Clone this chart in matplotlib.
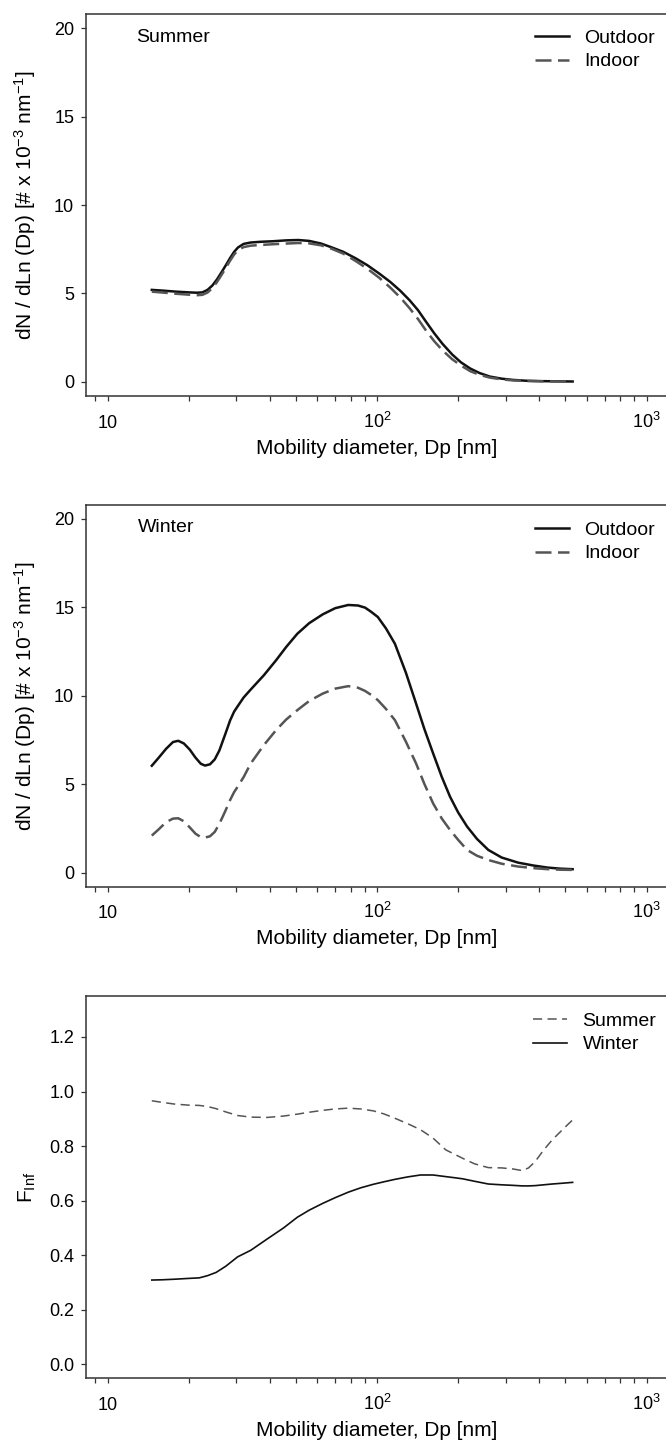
import numpy as np
import matplotlib
matplotlib.use('Agg')
import matplotlib.pyplot as plt
from matplotlib.ticker import FixedLocator, FixedFormatter, LogLocator, NullFormatter

plt.rcParams['font.family'] = ['Liberation Sans', 'DejaVu Sans']
plt.rcParams['mathtext.fontset'] = 'custom'
plt.rcParams['mathtext.rm'] = 'Liberation Sans'
plt.rcParams['mathtext.it'] = 'Liberation Sans:italic'
plt.rcParams['mathtext.bf'] = 'Liberation Sans:bold'

# --- data ---
# summer size distribution (dN/dlnDp, x10^3)
dp_summer = [14.6, 16, 18, 20, 21.5, 22.5, 23.5, 24.5, 25.5, 26.5,
             27.5, 28.5, 29.5, 30.5, 32, 34, 37, 41, 46, 51,
             56, 62, 68, 75, 83, 92, 102, 112, 122, 132,
             142, 152, 163, 175, 190, 205, 222, 240, 262, 290,
             320, 360, 410, 470, 532]
summer_out = [5.20, 5.16, 5.10, 5.06, 5.04, 5.06, 5.2, 5.45, 5.8, 6.2,
              6.6, 7.0, 7.35, 7.6, 7.8, 7.88, 7.92, 7.95, 8.0, 8.02,
              7.97, 7.82, 7.6, 7.35, 7.0, 6.6, 6.12, 5.65, 5.15, 4.62,
              4.05, 3.4, 2.75, 2.15, 1.55, 1.1, 0.75, 0.5, 0.3, 0.18,
              0.11, 0.06, 0.04, 0.03, 0.02]
summer_in = [5.10, 5.05, 4.98, 4.93, 4.90, 4.92, 5.05, 5.3, 5.65, 6.05,
             6.45, 6.85, 7.2, 7.45, 7.62, 7.7, 7.74, 7.78, 7.82, 7.85,
             7.83, 7.72, 7.52, 7.25, 6.85, 6.4, 5.88, 5.33, 4.77, 4.17,
             3.55, 2.9, 2.3, 1.78, 1.28, 0.92, 0.6, 0.4, 0.24, 0.14,
             0.08, 0.05, 0.03, 0.02, 0.02]

# winter size distribution
dp_winter = [14.6, 15.5, 16.5, 17.5, 18.3, 19.2, 20.2, 21.2, 22.2, 23,
             24, 25, 26, 27.4, 28.5, 29.5, 30.4, 32, 34, 38,
             42.2, 46, 50.6, 56, 62.9, 70, 78.2, 85, 90.3, 95,
             100.7, 108, 116.5, 128, 139.6, 150, 161.5, 174, 186.6, 200,
             215.9, 235, 258.8, 290, 334, 380, 430, 480, 532]
winter_out = [6.04, 6.5, 7.0, 7.38, 7.45, 7.3, 6.95, 6.5, 6.15, 6.05,
              6.12, 6.4, 6.9, 7.86, 8.6, 9.1, 9.4, 9.9, 10.35, 11.15,
              12.0, 12.75, 13.5, 14.1, 14.6, 14.95, 15.13, 15.1, 14.98, 14.75,
              14.45, 13.8, 12.94, 11.3, 9.56, 8.1, 6.74, 5.4, 4.29, 3.4,
              2.6, 1.9, 1.28, 0.85, 0.56, 0.4, 0.28, 0.22, 0.19]
winter_in = [2.09, 2.45, 2.85, 3.05, 3.07, 2.9, 2.55, 2.2, 2.0, 1.98,
             2.05, 2.3, 2.75, 3.5, 4.1, 4.55, 4.85, 5.4, 6.17, 7.2,
             8.05, 8.65, 9.18, 9.7, 10.12, 10.4, 10.54, 10.45, 10.27, 10.05,
             9.75, 9.25, 8.62, 7.4, 6.17, 5.0, 3.91, 3.05, 2.41, 1.85,
             1.28, 0.95, 0.71, 0.5, 0.34, 0.25, 0.19, 0.16, 0.15]

# infiltration factor
dp_finf = [14.6, 16, 17.7, 20, 21.9, 23.5, 25.3, 27.5, 30.4, 34,
           39.2, 45, 50.6, 56, 62.9, 70, 78.2, 87, 97, 106,
           116.5, 130, 145, 161.5, 180, 194, 208, 230, 258.8, 290,
           320, 346, 365, 386, 415, 447, 490, 532]
finf_summer = [0.966, 0.96, 0.954, 0.95, 0.949, 0.945, 0.937, 0.925, 0.912, 0.906,
               0.905, 0.91, 0.917, 0.924, 0.931, 0.936, 0.939, 0.936, 0.929, 0.918,
               0.902, 0.882, 0.86, 0.829, 0.786, 0.77, 0.755, 0.735, 0.721, 0.72,
               0.716, 0.71, 0.72, 0.743, 0.785, 0.823, 0.862, 0.896]
finf_winter = [0.309, 0.310, 0.312, 0.315, 0.317, 0.325, 0.337, 0.36, 0.394, 0.418,
               0.46, 0.5, 0.539, 0.565, 0.590, 0.611, 0.631, 0.647, 0.660, 0.669,
               0.678, 0.687, 0.694, 0.694, 0.688, 0.684, 0.680, 0.671, 0.661, 0.658,
               0.656, 0.654, 0.654, 0.655, 0.658, 0.661, 0.664, 0.667]

xtick_vals = [10, 100, 1000]
xtick_labels = ['10', '10$^2$', '10$^3$']

W, H = 666, 1443
fig = plt.figure(figsize=(W / 100, H / 100), dpi=100)

xmin, xmax = 8.3, 1250
ax_w = (np.log10(xmax) - np.log10(xmin)) * 269.5 / W
left = 85.7 / W
ax_h = 382 / H

def style_axes(ax):
    ax.set_xscale('log')
    ax.set_xlim(xmin, xmax)
    for s in ['left', 'bottom', 'top']:
        ax.spines[s].set_color('#333333')
        ax.spines[s].set_linewidth(1.1)
    ax.spines['right'].set_visible(False)
    ax.xaxis.set_major_locator(FixedLocator(xtick_vals))
    ax.xaxis.set_major_formatter(FixedFormatter(xtick_labels))
    ax.xaxis.set_minor_locator(LogLocator(base=10, subs=np.arange(2, 10), numticks=20))
    ax.xaxis.set_minor_formatter(NullFormatter())
    ax.tick_params(which='both', direction='out', length=3.3, width=0.9, color='#333333')
    ax.tick_params(axis='x', which='both', labelsize=13, pad=19.5, top=False)
    ax.tick_params(axis='y', labelsize=13, pad=5)
    for lbl in ax.get_xticklabels():
        lbl.set_va('baseline')
    ax.set_xlabel('Mobility diameter, Dp [nm]', fontsize=15)
    ax.xaxis.set_label_coords(0.495, -0.112)
    ax.yaxis.set_label_coords(-0.081, 0.5)

def add_legend(ax, x_px, top_px):
    ax.legend(loc='upper left', bbox_to_anchor=(x_px / W, 1 - top_px / H),
              bbox_transform=fig.transFigure, frameon=False, fontsize=14,
              handlelength=1.75, handletextpad=0.8, labelspacing=0.32,
              borderpad=0, borderaxespad=0)

ylab = 'dN / dLn (Dp) [# x 10$^{-3}$ nm$^{-1}$]'

# panel 1: summer
ax1 = fig.add_axes([left, 1 - 396 / H, ax_w, ax_h])
ax1.plot(dp_summer, summer_out, color='#111111', lw=1.8, label='Outdoor')
ax1.plot(dp_summer, summer_in, color='#555555', lw=1.8, dashes=(6.4, 2.6), label='Indoor')
style_axes(ax1)
ax1.set_ylim(-0.8, 20.8)
ax1.set_yticks([0, 5, 10, 15, 20])
ax1.set_ylabel(ylab, fontsize=15)
ax1.text(136 / W, 1 - 37 / H, 'Summer', transform=fig.transFigure, fontsize=14,
         ha='left', va='center')
add_legend(ax1, 535, 29)

# panel 2: winter
ax2 = fig.add_axes([left, 1 - 886.7 / H, ax_w, ax_h])
ax2.plot(dp_winter, winter_out, color='#111111', lw=1.8, label='Outdoor')
ax2.plot(dp_winter, winter_in, color='#555555', lw=1.8, dashes=(6.4, 2.6), label='Indoor')
style_axes(ax2)
ax2.set_ylim(-0.8, 20.8)
ax2.set_yticks([0, 5, 10, 15, 20])
ax2.set_ylabel(ylab, fontsize=15)
ax2.text(138 / W, 1 - 528 / H, 'Winter', transform=fig.transFigure, fontsize=14,
         ha='left', va='center')
add_legend(ax2, 535, 521)

# panel 3: infiltration factor
ax3 = fig.add_axes([left, 1 - 1378 / H, ax_w, ax_h])
ax3.plot(dp_finf, finf_summer, color='#555555', lw=1.1, dashes=(6.0, 3.5), label='Summer')
ax3.plot(dp_finf, finf_winter, color='#111111', lw=1.2, label='Winter')
style_axes(ax3)
ax3.set_ylim(-0.05, 1.35)
ax3.set_yticks([0.0, 0.2, 0.4, 0.6, 0.8, 1.0, 1.2])
ax3.set_yticklabels(['0.0', '0.2', '0.4', '0.6', '0.8', '1.0', '1.2'])
ax3.set_ylabel('F$_{\\mathrm{Inf}}$', fontsize=15)
add_legend(ax3, 533, 1012)

fig.savefig('out.png', dpi=100)
